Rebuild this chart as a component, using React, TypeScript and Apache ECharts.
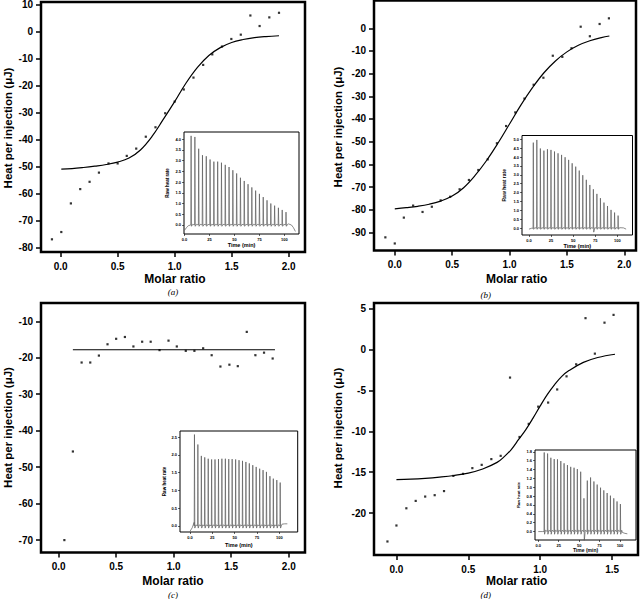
import { useEffect, useRef } from "react";
import * as echarts from "echarts";

// ---------- Panel (a) ----------
const aMolar = [-0.076, 0.006, 0.09, 0.172, 0.254, 0.336, 0.42, 0.5, 0.58, 0.663, 0.747, 0.832, 0.917, 1.0, 1.08, 1.165, 1.25, 1.33, 1.415, 1.497, 1.58, 1.664, 1.745, 1.83, 1.915];
const aHeat = [-76.9, -74.2, -63.6, -58.3, -55.6, -52.2, -48.8, -48.8, -46.0, -43.3, -38.9, -35.4, -30.2, -25.9, -21.4, -17.0, -12.3, -8.4, -5.5, -2.7, -1.1, 6.0, 2.1, 5.3, 7.0];
const aFitX = [0.006, 0.1, 0.2, 0.3, 0.4, 0.5, 0.6, 0.7, 0.8, 0.9, 1.0, 1.1, 1.2, 1.3, 1.4, 1.5, 1.6, 1.7, 1.8, 1.915];
const aFitY = [-50.9, -50.7, -50.3, -49.8, -49.2, -48.3, -46.8, -43.8, -38.9, -32.5, -25.9, -19.0, -13.2, -8.8, -5.9, -4.0, -2.9, -2.2, -1.8, -1.5];
const aTime = [6.6, 10.4, 14.2, 18.0, 21.8, 25.6, 29.4, 33.2, 37.0, 40.8, 44.6, 48.4, 52.2, 56.0, 59.8, 63.6, 67.4, 71.2, 75.0, 78.8, 82.6, 86.4, 90.2, 94.0, 97.8, 101.6];
const aPeak = [4.15, 4.1, 3.55, 3.25, 3.2, 3.05, 2.95, 2.95, 2.9, 2.8, 2.7, 2.55, 2.4, 2.2, 2.05, 1.9, 1.75, 1.6, 1.45, 1.3, 1.15, 1.0, 0.9, 0.8, 0.7, 0.6];
const aLead = [[0, -0.25], [2, -0.12], [4, -0.03]];
const aTail = [[104, 0.05], [107, 0.0], [109, -0.12], [111, -0.3]];

// ---------- Panel (b) ----------
const bMolar = [-0.082, 0.0, 0.079, 0.16, 0.242, 0.323, 0.40, 0.483, 0.565, 0.646, 0.728, 0.81, 0.89, 0.97, 1.05, 1.13, 1.21, 1.295, 1.377, 1.46, 1.54, 1.62, 1.70, 1.785, 1.866];
const bHeat = [-92.2, -94.9, -83.5, -78.2, -81.0, -78.7, -75.9, -74.3, -71.0, -66.9, -62.5, -57.8, -50.7, -43.1, -37.1, -31.0, -24.9, -21.8, -12.1, -12.6, -8.8, 0.7, -3.5, 1.9, 4.4];
const bFitX = [0.0, 0.1, 0.2, 0.3, 0.4, 0.5, 0.6, 0.7, 0.8, 0.9, 1.0, 1.1, 1.2, 1.3, 1.4, 1.5, 1.6, 1.7, 1.8, 1.87];
const bFitY = [-79.6, -79.1, -78.5, -77.6, -76.2, -74.0, -70.3, -64.9, -58.3, -50.6, -42.2, -33.8, -26.2, -19.6, -14.4, -10.4, -7.5, -5.5, -4.1, -3.4];
const bTime = [4.9, 8.9, 12.9, 16.9, 20.9, 24.9, 28.9, 32.9, 36.9, 40.9, 44.9, 48.9, 52.9, 56.9, 60.9, 64.9, 68.9, 72.9, 76.9, 80.9, 84.9, 88.9, 92.9, 96.9, 100.9];
const bPeak = [4.81, 4.96, 4.48, 4.36, 4.44, 4.4, 4.31, 4.21, 4.12, 3.99, 3.84, 3.65, 3.46, 3.24, 2.98, 2.72, 2.43, 2.19, 1.93, 1.69, 1.44, 1.25, 1.03, 0.88, 0.71];
const bLead = [[0, -0.05], [3, 0.0]];
const bTail = [[103, 0.05], [107, 0.02], [110, -0.05]];

// ---------- Panel (c) ----------
const cMolar = [0.05, 0.124, 0.2, 0.275, 0.35, 0.425, 0.5, 0.576, 0.65, 0.726, 0.80, 0.877, 0.955, 1.027, 1.105, 1.18, 1.256, 1.33, 1.406, 1.484, 1.557, 1.635, 1.71, 1.785, 1.86];
const cHeat = [-70.0, -45.7, -21.3, -21.3, -19.4, -16.3, -14.8, -14.3, -16.9, -15.6, -15.6, -17.9, -15.3, -16.9, -18.1, -18.1, -17.4, -19.3, -22.4, -21.9, -22.3, -12.9, -19.3, -18.6, -20.2];
const cFitX = [0.124, 1.88];
const cFitY = [-17.8, -17.8];
const cTime = [5.0, 8.8, 12.7, 16.5, 20.4, 24.2, 28.0, 31.9, 35.7, 39.6, 43.4, 47.2, 51.1, 54.9, 58.8, 62.6, 66.4, 70.3, 74.1, 78.0, 81.8, 85.6, 89.5, 93.3, 97.2, 101.0];
const cPeak = [2.57, 2.29, 1.97, 1.93, 1.89, 1.87, 1.87, 1.88, 1.89, 1.89, 1.88, 1.88, 1.87, 1.85, 1.83, 1.80, 1.76, 1.71, 1.66, 1.61, 1.57, 1.52, 1.40, 1.33, 1.29, 1.22];
const cLead = [[0, -0.15], [2.5, -0.05], [4.6, 0.1]];
const cTail = [[103, 0.05], [106, 0.06], [109, 0.06]];

// ---------- Panel (d) ----------
const dMolar = [-0.0625, 0.0, 0.069, 0.134, 0.2, 0.266, 0.331, 0.396, 0.463, 0.528, 0.593, 0.66, 0.725, 0.79, 0.856, 0.92, 0.986, 1.055, 1.118, 1.183, 1.25, 1.315, 1.38, 1.447, 1.51];
const dHeat = [-23.45, -21.5, -19.4, -18.5, -17.97, -17.8, -17.3, -15.45, -15.2, -14.5, -14.1, -13.4, -13.0, -3.45, -10.7, -9.1, -7.0, -6.5, -4.9, -3.3, -1.83, 3.8, -0.53, 3.25, 4.2];
const dFitX = [0.0, 0.1, 0.2, 0.3, 0.4, 0.5, 0.6, 0.7, 0.75, 0.8, 0.85, 0.9, 0.95, 1.0, 1.05, 1.1, 1.15, 1.2, 1.3, 1.4, 1.52];
const dFitY = [-15.9, -15.85, -15.75, -15.6, -15.4, -15.1, -14.6, -13.8, -13.1, -12.2, -11.0, -9.8, -8.4, -6.9, -5.5, -4.3, -3.3, -2.6, -1.6, -1.0, -0.6];
const dTime = [7.3, 11.4, 15.4, 19.5, 23.5, 27.6, 31.6, 35.7, 39.7, 43.8, 47.8, 51.9, 55.9, 60.0, 64.0, 68.1, 72.1, 76.2, 80.2, 84.3, 88.3, 92.4, 96.4, 100.5];
const dPeak = [1.785, 1.76, 1.665, 1.635, 1.63, 1.59, 1.54, 1.50, 1.46, 1.44, 1.41, 1.35, 0.75, 1.15, 1.22, 1.13, 1.06, 0.99, 0.93, 0.87, 0.81, 0.75, 0.68, 0.62];
const dLead = [[0, 0.0], [5, 0.0]];
const dTail = [[103, -0.02], [106, -0.04], [109, -0.05]];

// ---------- Ticks ----------
const molarTicks = [0, 0.5, 1.0, 1.5, 2.0];
const molarTicksD = [0, 0.5, 1.0, 1.5];
const aHeatTicks = [10, 0, -10, -20, -30, -40, -50, -60, -70, -80];
const bHeatTicks = [0, -10, -20, -30, -40, -50, -60, -70, -80, -90];
const cHeatTicks = [-10, -20, -30, -40, -50, -60, -70];
const dHeatTicks = [5, 0, -5, -10, -15, -20];
const timeTicks = [0, 25, 50, 75, 100];
const aRateTicks = [0, 0.5, 1.0, 1.5, 2.0, 2.5, 3.0, 3.5, 4.0];
const bRateTicks = [0, 0.5, 1.0, 1.5, 2.0, 2.5, 3.0, 3.5, 4.0, 4.5, 5.0];
const cRateTicks = [0, 0.5, 1.0, 1.5, 2.0, 2.5];
const dRateTicks = [0, 0.2, 0.4, 0.6, 0.8, 1.0, 1.2, 1.4, 1.6, 1.8];

const SANS = '"Liberation Sans", Arial, sans-serif';
const SERIF = '"Liberation Serif", "DejaVu Serif", serif';

const zip = (xs: number[], ys: number[]) => xs.map((x, i) => [x, ys[i]]);

function buildTrace(times: number[], peaks: number[], lead: number[][], tail: number[][], dipAt = -1) {
  const pts: number[][] = [...lead];
  times.forEach((t, i) => {
    pts.push([t - 0.3, 0.0]);
    pts.push([t, peaks[i]]);
    pts.push([t + 0.4, i === dipAt ? -0.22 : -0.06]);
    pts.push([t + 1.6, 0.03]);
  });
  return pts.concat(tail);
}

function mainX(grid: number, min: number, max: number, ticks: number[]) {
  return {
    type: "value", gridIndex: grid, min, max,
    axisLine: { show: false, onZero: false },
    axisTick: { show: true, inside: false, length: 5, lineStyle: { color: "#000", width: 1.5 }, customValues: ticks },
    axisLabel: { show: true, customValues: ticks, formatter: (v: number) => v.toFixed(1), color: "#000", fontFamily: SANS, fontWeight: "bold", fontSize: 10, margin: 9 },
    splitLine: { show: false },
  };
}
function mainY(grid: number, min: number, max: number, ticks: number[]) {
  return {
    type: "value", gridIndex: grid, min, max,
    axisLine: { show: false, onZero: false },
    axisTick: { show: true, inside: false, length: 5, lineStyle: { color: "#000", width: 1.5 }, customValues: ticks },
    axisLabel: { show: true, customValues: ticks, formatter: (v: number) => String(v), color: "#000", fontFamily: SANS, fontWeight: "bold", fontSize: 10, margin: 8 },
    splitLine: { show: false },
  };
}
function insetX(grid: number, min: number, max: number, gap: number, fs: number) {
  return {
    type: "value", gridIndex: grid, min, max,
    name: "Time (min)", nameLocation: "middle", nameGap: gap,
    nameTextStyle: { color: "#000", fontFamily: SANS, fontWeight: "bold", fontSize: fs },
    axisLine: { show: false, onZero: false },
    axisTick: { show: true, inside: false, length: 2, lineStyle: { color: "#000", width: 0.6 }, customValues: timeTicks },
    axisLabel: { show: true, customValues: timeTicks, formatter: (v: number) => (v === 0 ? "0.0" : String(v)), color: "#000", fontFamily: SANS, fontWeight: "bold", fontSize: 4, margin: 3 },
    splitLine: { show: false },
  };
}
function insetY(grid: number, min: number, max: number, ticks: number[], gap: number, fs: number) {
  return {
    type: "value", gridIndex: grid, min, max,
    name: "Raw heat rate", nameLocation: "middle", nameGap: gap, nameRotate: 90,
    nameTextStyle: { color: "#000", fontFamily: SANS, fontWeight: "bold", fontSize: fs },
    axisLine: { show: false, onZero: false },
    axisTick: { show: true, inside: false, length: 2, lineStyle: { color: "#000", width: 0.6 }, customValues: ticks },
    axisLabel: { show: true, customValues: ticks, formatter: (v: number) => v.toFixed(1), color: "#000", fontFamily: SANS, fontWeight: "bold", fontSize: 4, margin: 3 },
    splitLine: { show: false },
  };
}

const mainGrid = (left: number, top: number, width: number, height: number) => ({
  left, top, width, height, show: true, borderColor: "#000", borderWidth: 2.5, backgroundColor: "transparent", outerBoundsMode: "none", containLabel: false,
});
const insetGrid = (left: number, top: number, width: number, height: number) => ({
  left, top, width, height, show: true, borderColor: "#000", borderWidth: 1, backgroundColor: "#fff", outerBoundsMode: "none", containLabel: false,
});

function scatter(i: number, xs: number[], ys: number[]) {
  return { type: "scatter", xAxisIndex: i, yAxisIndex: i, data: zip(xs, ys), symbol: "rect", symbolSize: 2.2, itemStyle: { color: "#000" }, silent: true, z: 3 };
}
function fit(i: number, xs: number[], ys: number[]) {
  return { type: "line", xAxisIndex: i, yAxisIndex: i, data: zip(xs, ys), symbol: "none", showSymbol: false, smooth: 0.4, lineStyle: { color: "#000", width: 1.2 }, silent: true, z: 3 };
}
function trace(i: number, pts: number[][]) {
  return { type: "line", xAxisIndex: i, yAxisIndex: i, data: pts, symbol: "none", showSymbol: false, lineStyle: { color: "#5a5a5a", width: 0.7 }, silent: true, z: 4 };
}

function label(text: string, x: number, y: number, font: string, rotation = 0) {
  return { type: "text", x, y, rotation, silent: true, style: { text, font, fill: "#000", textAlign: "center", textVerticalAlign: "middle", align: "center", verticalAlign: "middle" } };
}

export default function App() {
  const ref = useRef<HTMLDivElement>(null);
  useEffect(() => {
    if (!ref.current) return;
    const chart = echarts.init(ref.current, null, { renderer: "svg" });
    const yName = "Heat per injection (μJ)";
    const yFont = `bold 11.5px ${SANS}`;
    const xFont = `bold 12px ${SANS}`;
    const capFont = `italic 9px ${SERIF}`;
    chart.setOption({
      animation: false,
      backgroundColor: "#fff",
      grid: [
        mainGrid(41, 2, 264, 250),
        mainGrid(374, 0.5, 262, 250),
        mainGrid(41, 303, 264, 249.5),
        mainGrid(374, 303, 264, 252),
        insetGrid(184, 132, 115, 102),
        insetGrid(522, 135.5, 110.5, 99.5),
        insetGrid(180, 431, 117.7, 101),
        insetGrid(535, 450, 101, 90),
      ],
      xAxis: [
        mainX(0, -0.172, 2.143, molarTicks),
        mainX(1, -0.181, 2.102, molarTicks),
        mainX(2, -0.153, 2.141, molarTicks),
        mainX(3, -0.156, 1.68, molarTicksD),
        insetX(4, -0.5, 114.6, 8, 5.5),
        insetX(5, -7.9, 117.2, 8, 5.5),
        insetX(6, -11.2, 120.6, 10, 5.5),
        insetX(7, -4, 119.6, 6.5, 5),
      ],
      yAxis: [
        mainY(0, -81.6, 11.0, aHeatTicks),
        mainY(1, -98.0, 12.26, bHeatTicks),
        mainY(2, -73.4, -4.98, cHeatTicks),
        mainY(3, -25.1, 5.65, dHeatTicks),
        insetY(4, -0.42, 4.33, aRateTicks, 14, 4.5),
        insetY(5, -0.38, 5.21, bRateTicks, 16, 5),
        insetY(6, -0.17, 2.67, cRateTicks, 13, 4.5),
        insetY(7, -0.19, 1.84, dRateTicks, 15, 4),
      ],
      series: [
        scatter(0, aMolar, aHeat), fit(0, aFitX, aFitY),
        scatter(1, bMolar, bHeat), fit(1, bFitX, bFitY),
        scatter(2, cMolar, cHeat), fit(2, cFitX, cFitY),
        scatter(3, dMolar, dHeat), fit(3, dFitX, dFitY),
        trace(4, buildTrace(aTime, aPeak, aLead, aTail)),
        trace(5, buildTrace(bTime, bPeak, bLead, bTail, 17)),
        trace(6, buildTrace(cTime, cPeak, cLead, cTail)),
        trace(7, buildTrace(dTime, dPeak, dLead, dTail, 12)),
      ],
      graphic: [
        label(yName, 8.3, 128, yFont, Math.PI / 2),
        label(yName, 338.3, 127, yFont, Math.PI / 2),
        label(yName, 8.3, 427.5, yFont, Math.PI / 2),
        label(yName, 338.3, 428, yFont, Math.PI / 2),
        label("Molar ratio", 175, 278.5, xFont),
        label("Molar ratio", 516.7, 278.5, xFont),
        label("Molar ratio", 173, 580.5, xFont),
        label("Molar ratio", 516.7, 580.5, xFont),
        label("(a)", 173, 292, capFont),
        label("(b)", 485.7, 295, capFont),
        label("(c)", 173, 595, capFont),
        label("(d)", 485.7, 595, capFont),
      ],
    });
    return () => chart.dispose();
  }, []);
  return <div ref={ref} style={{ position: "fixed", left: 0, top: 0, width: 640, height: 599, background: "#fff" }} />;
}
